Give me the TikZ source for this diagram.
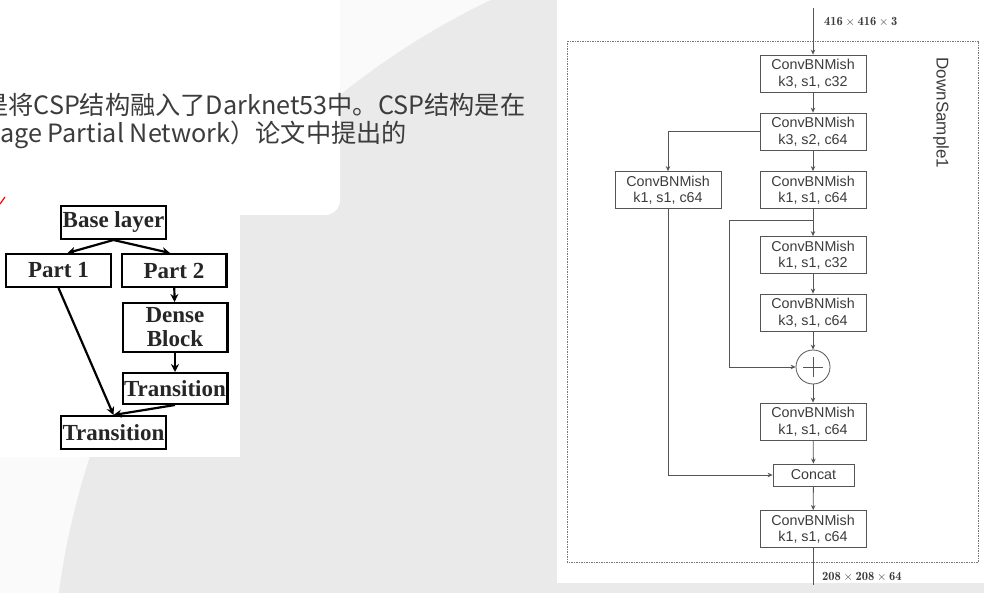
\documentclass[tikz,border=0pt]{standalone}
\usepackage{fontspec}
\newfontfamily\cjk{Noto Sans CJK SC}
\newfontfamily\tms{Liberation Serif}
\newfontfamily\arial{Liberation Sans}
\usetikzlibrary{arrows.meta}
\definecolor{fond}{HTML}{FAFAFA}
\definecolor{disque}{HTML}{EAEAEA}
\definecolor{trait}{HTML}{555555}
\definecolor{texte}{HTML}{3C3C3C}

\tikzset{csp/.style = {draw, line width=2.4pt, minimum width=104.6pt, minimum height=#1,
                       inner sep=0pt, align=center, text=black!85,
                       font=\tms\bfseries\fontsize{23}{24}\selectfont},
         csp/.default=32.6pt,
         flcsp/.style = {line width=2.2pt, -{Stealth[length=8pt,width=8pt]}},
         conv/.style = {draw=trait, line width=0.8pt, minimum width=106pt, minimum height=37pt,
                        inner sep=0pt, align=center, text=texte,
                        font=\arial\fontsize{14.3}{16.5}\selectfont},
         fl/.style = {draw=trait, line width=0.8pt, -{Stealth[length=5pt,width=4.5pt]}},
         dimtxt/.style = {anchor=west, inner sep=0pt, text=texte,
                          font=\fontsize{12.5}{13}\selectfont},
         somme/.style = {draw=trait, line width=0.8pt, circle, minimum size=34pt, inner sep=0pt},
         ligne/.style = {anchor=base west, inner sep=0pt, text=texte,
                         font=\cjk\fontsize{25.2}{25}\selectfont}
        }

\begin{document}
\begin{tikzpicture}[x=1pt, y=-1pt]
  \useasboundingbox (0,0) rectangle (984,593);
  \clip (0,0) rectangle (984,593);
  % fond de la diapositive
  \fill[fond] (0,0) rectangle (984,593);
  \fill[disque] (823,696) circle[radius=771];
  \fill[white, rounded corners=15pt] (-20,-20) rectangle (340,215);
  \fill[white] (0,205) rectangle (240,457);
  \fill[white] (557,0) rectangle (984,583);

  % texte
  \node[ligne] (ligne1) at (-17,115) {是将CSP结构融入了Darknet53中。CSP结构是在};
  \node[ligne] (ligne2) at (0,143) {age Partial Network）论文中提出的};
  \draw[red, line width=1.2pt] (0,204) -- (5,197);

  % CSP
  \node[csp] (base) at (113.5,222.5) {Base layer};
  \node[csp] (p1) at (58.5,270.5) {Part 1};
  \node[csp] (p2) at (174,270.5) {Part 2};
  \node[csp=48.6pt] (dense) at (175,327.5) {Dense\\Block};
  \node[csp=30.6pt] (t1) at (175,388.5) {Transition};
  \node[csp] (t2) at (113.5,432.5) {Transition};
  \draw[flcsp] (base.south) -- ([xshift=9pt]p1.north);
  \draw[flcsp] (base.south) -- ([xshift=-4pt]p2.north);
  \draw[flcsp] (p2) -- (dense);
  \draw[flcsp] (dense) -- (t1);
  \draw[flcsp] (p1.south) -- (t2.north);
  \draw[flcsp] (t1.south) -- (t2.north);

  % DownSample1
  \draw[trait!80, line width=0.7pt, dash pattern=on 1.5pt off 1pt] (567,41) rectangle (978,562);
  \node[rotate=-90, text=texte, font=\arial\fontsize{17}{17}\selectfont] (titre) at (941,113) {DownSample1};
  \node[conv] (b1) at (813,73.5) {ConvBNMish\\k3, s1, c32};
  \node[conv] (b2) at (813,131.5) {ConvBNMish\\k3, s2, c64};
  \node[conv] (b3) at (813,190) {ConvBNMish\\k1, s1, c64};
  \node[conv] (bl) at (668,190) {ConvBNMish\\k1, s1, c64};
  \node[conv] (b4) at (813,255) {ConvBNMish\\k1, s1, c32};
  \node[conv] (b5) at (813,312.5) {ConvBNMish\\k3, s1, c64};
  \node[somme] (plus) at (813,367) {};
  \draw[trait, line width=0.8pt] ([xshift=-10pt]plus.center) -- ([xshift=10pt]plus.center);
  \draw[trait, line width=0.8pt] ([yshift=-10pt]plus.center) -- ([yshift=10pt]plus.center);
  \node[conv] (b6) at (813,421.5) {ConvBNMish\\k1, s1, c64};
  \node[conv, minimum width=81pt, minimum height=22pt] (concat) at (813.5,475) {Concat};
  \node[conv] (b7) at (813,529) {ConvBNMish\\k1, s1, c64};

  \coordinate (entree) at (813,8);
  \coordinate (sortie) at (813,585);
  \coordinate (r0) at (813,220);
  \coordinate (rg) at (729,367);
  \node[dimtxt] (dim1) at (824,22) {$\mathbf{416}\times\mathbf{416}\times\mathbf{3}$};
  \node[dimtxt] (dim2) at (822,577) {$\mathbf{208}\times\mathbf{208}\times\mathbf{64}$};

  \draw[fl] (entree) -- (b1);
  \draw[fl] (b1) -- (b2);
  \draw[fl] (b2) -- (b3);
  \draw[fl] (b2.west) -| (bl.north);
  \draw[fl] (b3) -- (b4);
  \draw[fl] (r0) -| (rg) -- (plus.west);
  \draw[fl] (b4) -- (b5);
  \draw[fl] (b5) -- (plus);
  \draw[fl] (plus) -- (b6);
  \draw[fl] (b6) -- (concat);
  \draw[fl] (bl.south) |- (concat.west);
  \draw[fl] (concat) -- (b7);
  \draw[draw=trait, line width=0.8pt] (b7) -- (sortie);
\end{tikzpicture}
\end{document}
